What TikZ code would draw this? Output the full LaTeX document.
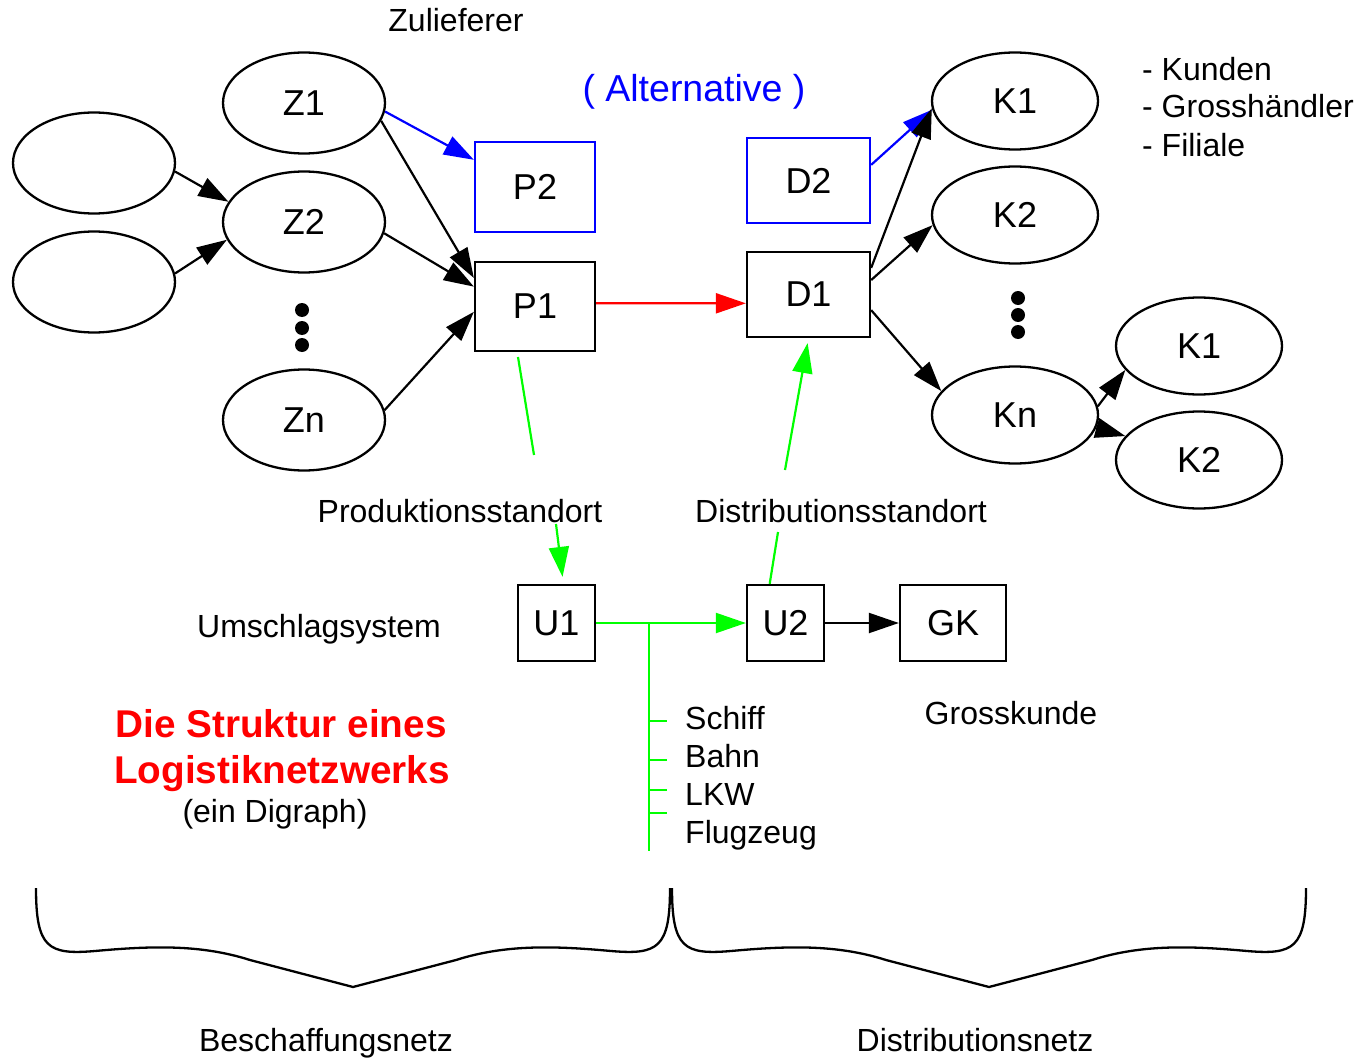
\documentclass[tikz,border=0pt]{standalone}
\usepackage{fontspec}
\setmainfont{Liberation Sans}
\usetikzlibrary{arrows.meta,shapes.geometric,calc}
\definecolor{pblue}{RGB}{0,0,255}
\definecolor{pgreen}{RGB}{0,255,0}
\definecolor{pred}{RGB}{255,0,0}
\begin{document}
\begin{tikzpicture}[x=1pt,y=-1pt,
  ell/.style={ellipse,draw,line width=2.3pt,inner sep=0pt,minimum width=162pt,minimum height=101pt,font=\fontsize{36}{40}\selectfont},
  kell/.style={ell,minimum width=166pt,minimum height=97pt},
  box/.style={rectangle,draw,line width=2.3pt,inner sep=0pt,font=\fontsize{36}{40}\selectfont},
  arr/.style={line width=2.2pt,-{Triangle[length=30pt,width=20pt]}},
  garr/.style={arr,pgreen},
  gline/.style={line width=2.2pt,pgreen},
  lbl/.style={inner sep=0pt,font=\fontsize{32}{36}\selectfont},
  titl/.style={inner sep=0pt,text=pred,font=\bfseries\fontsize{38.7}{42}\selectfont},
  brace/.style={line width=2.3pt},
]
\useasboundingbox (0,0) rectangle (1356,1059);

% ellipses
\node[ell] (Z1) at (304,103) {Z1};
\node[ell] (Z2) at (304,222) {Z2};
\node[ell] (Zn) at (304,420) {Zn};
\node[ell] (B1) at (94,163) {};
\node[ell] (B2) at (94,282) {};
\node[kell] (K1) at (1015,101) {K1};
\node[kell] (K2) at (1015,215) {K2};
\node[kell] (Kn) at (1015,415) {Kn};
\node[kell] (K1b) at (1199,346) {K1};
\node[kell] (K2b) at (1199,460) {K2};

% boxes
\node[box,draw=pblue,minimum width=120pt,minimum height=90pt] (P2) at (535,187) {P2};
\node[box,minimum width=120pt,minimum height=89pt] (P1) at (535,306.5) {P1};
\node[box,draw=pblue,minimum width=123pt,minimum height=85pt] (D2) at (808.5,180.5) {D2};
\node[box,minimum width=123pt,minimum height=85pt] (D1) at (808.5,294.5) {D1};
\node[box,minimum width=77pt,minimum height=76pt] (U1) at (556.5,623) {U1};
\node[box,minimum width=77pt,minimum height=76pt] (U2) at (785.5,623) {U2};
\node[box,minimum width=106pt,minimum height=76pt] (GK) at (953,623) {GK};

% dots
\foreach \yy in {310,328,345} \fill (302,\yy) circle (7pt);
\foreach \yy in {298,315,332} \fill (1018,\yy) circle (7pt);

% black / coloured connectors
\draw[arr] (B1.-6) -- (Z2.165);
\draw[arr] (B2.6) -- (Z2.-167);
\draw[arr,pblue] (Z1.-6) -- (P2.156);
\draw[arr] (Z1.-13) -- (P1.155);
\draw[arr] (Z2.-8) -- (P1.162);
\draw[arr] (Zn.7) -- (P1.-175);
\draw[arr,pred] (P1.3) -- (D1.-172);
\draw[arr,pblue] (D2.14) -- (K1.186);
\draw[arr] (D1.23) -- (K1.185);
\draw[arr] (D1.13) -- (K2.187);
\draw[arr] (D1.-14) -- (Kn.162);
\draw[arr] (Kn.6) -- (K1b.-162);
\draw[arr] (Kn.-9) -- (K2b.162);

% green connectors
\coordinate (pl0) at (518,357);
\coordinate (pl1) at (534,455);
\draw[gline] (pl0) -- (pl1);
\coordinate (dl0) at (785,470);
\draw[garr,shorten >=5pt] (dl0) -- (D1.south);
\coordinate (pu0) at (556,524);
\draw[garr,shorten >=7pt] (pu0) -- (U1.80);
\coordinate (dl1) at (778,532);
\draw[gline] (dl1) -- (U2.112);
\draw[garr] (U1.east) -- (U2.west);
\coordinate (vt) at (649,623);
\coordinate (vb) at (649,851);
\draw[gline] (vt) -- (vb);
\foreach \yy in {721,760,790,813} \draw[gline] (649,\yy) -- (667,\yy);
\draw[arr] (U2.east) -- (GK.west);

% labels
\node[lbl,anchor=base] (zul) at (456,32) {Zulieferer};
\node[anchor=base,inner sep=0pt,text=pblue,font=\fontsize{37.5}{40}\selectfont] (alt) at (694,102) {( Alternative )};
\node[lbl,anchor=base west] (ku1) at (1142,81) {- Kunden};
\node[lbl,anchor=base west] (ku2) at (1142,118) {- Grosshändler};
\node[lbl,anchor=base west] (ku3) at (1142,157) {- Filiale};
\node[lbl,anchor=base] (prod) at (460,522) {Produktionsstandort};
\node[lbl,anchor=base] (dist) at (841,522) {Distributionsstandort};
\node[lbl,anchor=base] (ums) at (319,637) {Umschlagsystem};
\node[titl,anchor=base] (t1) at (281,737) {Die Struktur eines};
\node[titl,anchor=base] (t2) at (282,783) {Logistiknetzwerks};
\node[lbl,anchor=base] (t3) at (275,822) {(ein Digraph)};
\node[lbl,anchor=base west] (m1) at (685,729) {Schiff};
\node[lbl,anchor=base west] (m2) at (685,767) {Bahn};
\node[lbl,anchor=base west] (m3) at (685,805) {LKW};
\node[lbl,anchor=base west] (m4) at (685,843) {Flugzeug};
\node[lbl,anchor=base] (gkl) at (1011,724) {Grosskunde};
\node[lbl,anchor=base] (bn) at (326,1051) {Beschaffungsnetz};
\node[lbl,anchor=base] (dn) at (975,1051) {Distributionsnetz};

% braces
\draw[brace] (36,888) .. controls (36,948) and (48,955) .. (95,951)
  .. controls (150,946) and (200,944) .. (250,960) -- (353,987) -- (456,960)
  .. controls (506,944) and (556,946) .. (611,951)
  .. controls (658,955) and (670,948) .. (670,888);
\begin{scope}[xshift=636pt]
\draw[brace] (36,888) .. controls (36,948) and (48,955) .. (95,951)
  .. controls (150,946) and (200,944) .. (250,960) -- (353,987) -- (456,960)
  .. controls (506,944) and (556,946) .. (611,951)
  .. controls (658,955) and (670,948) .. (670,888);
\end{scope}
\end{tikzpicture}
\end{document}
